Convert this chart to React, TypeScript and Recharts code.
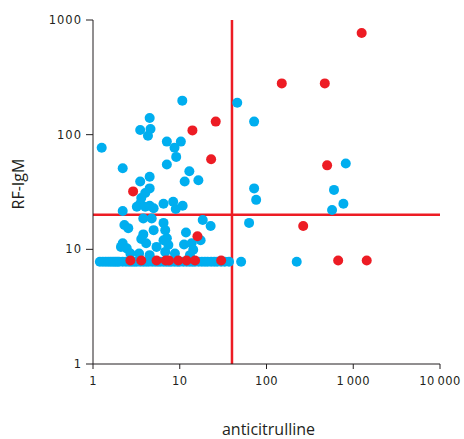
import React from 'react'
import { ScatterChart, Scatter, XAxis, YAxis, ReferenceLine, Label } from 'recharts'

// values (log-log)
const xTicks = [1, 10, 100, 1000, 10000]
const yTicks = [1, 10, 100, 1000]
const xTickLabels = ['1', '10', '100', '1\u2009000', '10\u2009000']

const blueX = [
  10.7, 46, 4.5, 3.5, 4.6, 4.3, 72, 1.26, 7.1, 10.3, 8.7, 9.1, 7.1, 2.2, 12.9, 11.4, 16.4, 4.5, 3.5,
  4.5, 4, 3.6, 3.5, 3.2, 2.2, 4, 4.5, 5, 6.5, 8.4, 9, 10.8, 820, 72, 76, 600, 770, 570, 63,
  3.8, 4.75, 2.3, 2.55, 5, 3.8, 3.6, 4.1, 2.2, 2.1, 2.45, 5.4, 6.5, 2.7, 6.5, 6.8, 7.1, 7.4, 6.8,
  18.4, 22.7, 11.8, 11.2, 13.7, 17.4, 14.3, 13.1, 8.8, 3.4, 4.5, 37, 51, 223,
]
const blueY = [
  198, 190, 140, 110, 112, 98, 130, 77, 87, 87, 77, 64, 55, 51, 48, 39, 40, 43, 39,
  34, 31, 28, 25, 23.5, 21.6, 23.5, 24, 22.8, 25, 26, 22.5, 24, 56, 34, 27, 33, 25, 22, 17,
  18.6, 18.6, 16.3, 15.3, 14.7, 13.5, 12.3, 11.3, 11.3, 10.5, 10.2, 10.5, 12, 9.2, 17, 14.7, 12.5, 10.9, 9.5,
  18, 16, 14, 11, 11.3, 12, 9.9, 8.9, 9.2, 9.2, 8.9, 7.8, 7.8, 7.8,
]

// dense row of blue points at the detection floor
const bandX = [
  1.2, 1.3, 1.4, 1.5, 1.6, 1.7, 1.8, 1.9, 2.0, 2.2, 2.4, 2.6, 2.8, 3.0, 3.2, 3.5, 3.8, 4.1, 4.4,
  4.8, 5.2, 5.6, 6.0, 6.5, 7.0, 7.5, 8.0, 8.7, 9.4, 10, 11, 12, 13, 14, 15, 16.5, 18, 19.5, 21, 23,
  25, 27, 30, 33,
]
const bandY = 7.8

const redX = [1250, 150, 470, 26, 14, 23, 500, 265, 16, 2.9, 2.7, 3.6, 5.4, 6.9, 7.5, 9.6, 12, 15, 30, 670, 1430]
const redY = [770, 280, 280, 130, 109, 61, 54, 16, 13, 32, 8, 8, 8, 8, 8, 8, 8, 8, 8, 8, 8]

const cutX = 40
const cutY = 20

const blueData = [
  ...bandX.map((x) => ({ x, y: bandY })),
  ...blueX.map((x, i) => ({ x, y: blueY[i] })),
]
const redData = redX.map((x, i) => ({ x, y: redY[i] }))

const BLUE = '#00AEEF'
const RED = '#ED1C24'
const AXIS = '#231f20'

const dot = (color: string) => (props: any) => (
  <circle cx={props.cx} cy={props.cy} r={5} fill={color} />
)

const yTickStyle = { fontFamily: 'DejaVu Sans', fontSize: 11.5, fill: AXIS, letterSpacing: 1 }
const xTickStyle = { fontFamily: 'DejaVu Sans', fontSize: 11.5, fill: AXIS, letterSpacing: 0.4 }

// pinned to the page corner so the full 464x439 fits without scrolling
export default function App() {
  return (
    <div style={{ position: 'absolute', left: 0, top: 0 }}>
      <ScatterChart width={464} height={439} margin={{ top: 20, right: 24, bottom: 13, left: 0 }}>
        <XAxis
          type="number"
          dataKey="x"
          scale="log"
          domain={[1, 10000]}
          ticks={xTicks}
          tickFormatter={(v: number) => xTickLabels[xTicks.indexOf(v)] ?? String(v)}
          allowDataOverflow
          height={62}
          tickSize={5}
          tickMargin={8}
          stroke={AXIS}
          tick={xTickStyle}
          interval={0}
        >
          <Label
            content={(p: any) => (
              <text
                x={p.viewBox.x + p.viewBox.width / 2 + 2}
                y={435}
                textAnchor="middle"
                fontFamily="Open Sans"
                fontSize={16}
                fill={AXIS}
              >
                anticitrulline
              </text>
            )}
          />
        </XAxis>
        <YAxis
          type="number"
          dataKey="y"
          scale="log"
          domain={[1, 1000]}
          ticks={yTicks}
          allowDataOverflow
          width={93}
          tickSize={7}
          tickMargin={4}
          stroke={AXIS}
          tick={yTickStyle}
          interval={0}
        >
          <Label
            content={(p: any) => {
              const cx = 24
              const cy = p.viewBox.y + p.viewBox.height / 2 - 8
              return (
                <text
                  x={cx}
                  y={cy}
                  transform={`rotate(-90 ${cx} ${cy})`}
                  textAnchor="middle"
                  fontFamily="Open Sans"
                  fontSize={16}
                  fill={AXIS}
                >
                  RF-IgM
                </text>
              )
            }}
          />
        </YAxis>
        <Scatter data={blueData} fill={BLUE} shape={dot(BLUE)} isAnimationActive={false} />
        <Scatter data={redData} fill={RED} shape={dot(RED)} isAnimationActive={false} />
        <ReferenceLine x={cutX} stroke={RED} strokeWidth={2.5} />
        <ReferenceLine y={cutY} stroke={RED} strokeWidth={2.5} />
      </ScatterChart>
    </div>
  )
}
